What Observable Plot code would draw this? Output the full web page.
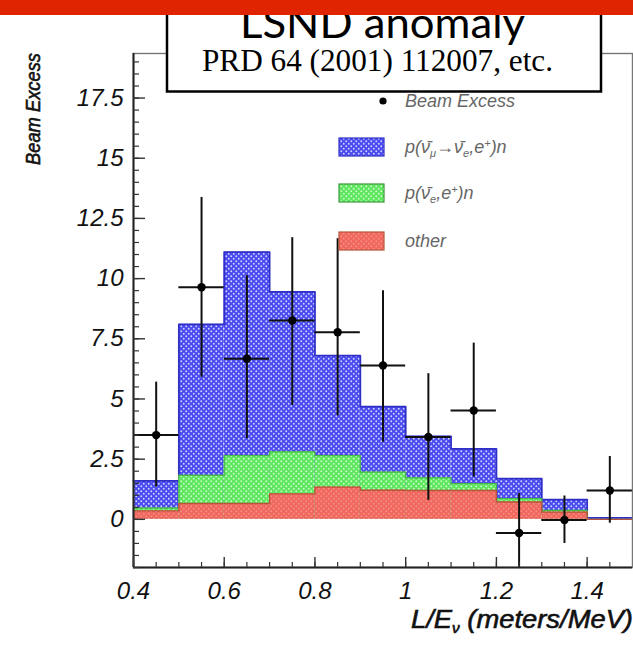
<!DOCTYPE html>
<html>
<head>
<meta charset="utf-8">
<script src="https://cdn.jsdelivr.net/npm/d3@7"></script>
<script src="https://cdn.jsdelivr.net/npm/@observablehq/plot@0.6"></script>
<style>
  body { margin: 0; background: #fff; }
  #wrap { position: relative; width: 633px; height: 646px; overflow: hidden; background: #fff; }
  #wrap > svg.plotsvg { position: absolute; left: 0; top: 0; }
  #header { position: absolute; left: 0; top: 0; }
</style>
</head>
<body>
<div id="wrap"></div>
<script>
// ---------- data ----------
const binStart = [0.4, 0.5, 0.6, 0.7, 0.8, 0.9, 1.0, 1.1, 1.2, 1.3, 1.4];
const binWidth = 0.1;
// stacked tops of the three contributions
const oscTop   = [1.6, 8.1, 11.1, 9.45, 6.8, 4.68, 3.45, 2.93, 1.69, 0.82, 0.06]; // p(nubar_mu -> nubar_e, e+)n  (total)
const nueTop   = [0.47, 1.83, 2.65, 2.8, 2.65, 1.96, 1.72, 1.48, 0.86, 0.37, 0.0]; // p(nubar_e, e+)n
const otherTop = [0.35, 0.66, 0.66, 1.06, 1.34, 1.21, 1.2, 1.2, 0.72, 0.3, 0.0];   // other
// beam excess data points
const ptX   = [0.45, 0.55, 0.65, 0.75, 0.85, 0.95, 1.05, 1.15, 1.25, 1.35, 1.45];
const ptY   = [3.5, 9.64, 6.67, 8.26, 7.77, 6.39, 3.42, 4.52, -0.57, -0.03, 1.2];
const ptHi  = [5.7, 13.37, 10.12, 11.7, 11.66, 9.5, 6.05, 7.32, 1.07, 0.97, 2.61];
const ptLo  = [1.34, 5.9, 3.35, 4.73, 4.3, 3.2, 0.79, 1.76, -2.0, -1.0, -0.16];
// axes
const xTicks = [0.4, 0.6, 0.8, 1, 1.2, 1.4];
const yTicks = [0, 2.5, 5, 7.5, 10, 12.5, 15, 17.5];
const xMinor = d3.range(0.4, 1.5, 0.05).map(v => +v.toFixed(2));
const yMinor = d3.range(-2, 19.3, 0.5).map(v => +v.toFixed(2));
const xDomain = [0.4, 1.5];
const yDomain = [-2, 19.35];
const legendLabels = ["Beam Excess", "osc", "nue", "other"];

// ---------- layout ----------
const W = 633, H = 646;
const mL = 133, mR = 1, mT = 53, mB = 79;
const frameW = W - mL - mR, frameH = H - mT - mB;

const bins = binStart.map((x0, i) => ({
  x1: x0, x2: +(x0 + binWidth).toFixed(2),
  osc: oscTop[i], nue: nueTop[i], other: otherTop[i]
}));
function steps(key) {
  const pts = bins.map(b => ({x: b.x1, y: b[key]}));
  const last = bins[bins.length - 1];
  pts.push({x: last.x2, y: last[key]});
  return pts;
}
const points = ptX.map((x, i) => ({x, y: ptY[i], hi: ptHi[i], lo: ptLo[i], xl: +(x - binWidth / 2).toFixed(2), xr: +(x + binWidth / 2).toFixed(2)}));

const AX = "'Liberation Sans', Arial, Helvetica, sans-serif";

function defsMark() {
  const g = d3.create("svg:defs");
  function pat(id, bg, dot) {
    const p = g.append("pattern").attr("id", id).attr("patternUnits", "userSpaceOnUse")
      .attr("width", 5).attr("height", 5);
    p.append("rect").attr("width", 5).attr("height", 5).attr("fill", bg);
    p.append("circle").attr("cx", 1.25).attr("cy", 1.25).attr("r", 0.95).attr("fill", dot);
    p.append("circle").attr("cx", 3.75).attr("cy", 3.75).attr("r", 0.95).attr("fill", dot);
  }
  pat("pBlue", "#4a4aef", "#cdd4ff");
  pat("pGreen", "#5de65d", "#c6ffc6");
  pat("pRed", "#f1675e", "#f58e86");
  return g.node();
}

function textMark() {
  const g = d3.create("svg:g").attr("text-anchor", "start");
  // y axis title
  g.append("text")
    .attr("transform", `translate(40,${mT}) rotate(-90)`)
    .attr("text-anchor", "end")
    .attr("font-family", AX).attr("font-style", "italic").attr("font-size", 21)
    .attr("fill", "#111").attr("stroke", "#111").attr("stroke-width", 0.6)
    .attr("textLength", 112).attr("lengthAdjust", "spacingAndGlyphs")
    .text("Beam Excess");
  // x axis title
  const xt = g.append("text")
    .attr("x", 633).attr("y", 628)
    .attr("text-anchor", "end")
    .attr("font-family", AX).attr("font-style", "italic").attr("font-size", 25)
    .attr("fill", "#111").attr("stroke", "#111").attr("stroke-width", 0.6)
    .attr("textLength", 222).attr("lengthAdjust", "spacingAndGlyphs");
  xt.append("tspan").text("L/E");
  xt.append("tspan").attr("font-size", 14).attr("dy", 5).text("\u03BD");
  xt.append("tspan").attr("dy", -5).text(" (meters/MeV)");

  // legend
  const lx = 339, lw = 45, tx = 405;
  const rows = [101, 147, 193, 241];
  const lg = g.append("g").attr("text-anchor", "start").attr("font-family", AX).attr("font-style", "italic").attr("font-size", 18).attr("fill", "#666");
  lg.append("circle").attr("cx", 383).attr("cy", rows[0]).attr("r", 3.6).attr("fill", "#000");
  lg.append("text").attr("x", tx).attr("y", rows[0] + 6).text(legendLabels[0]);
  const sw = [["pBlue", "#2f2fc8"], ["pGreen", "#3a9a3a"], ["pRed", "#b8553a"]];
  sw.forEach(([p, s], i) => {
    lg.append("rect").attr("x", lx).attr("y", rows[i + 1] - 9).attr("width", lw).attr("height", 18)
      .attr("fill", `url(#${p})`).attr("stroke", s).attr("stroke-width", 1.2);
  });
  // p(nubar_mu -> nubar_e, e+)n
  const t1 = lg.append("text").attr("x", tx).attr("y", rows[1] + 6);
  t1.append("tspan").text("p(\u03BD\u0304");
  t1.append("tspan").attr("font-size", 11).attr("dy", 4).text("\u03BC");
  t1.append("tspan").attr("dy", -4).text("\u2192\u03BD\u0304");
  t1.append("tspan").attr("font-size", 11).attr("dy", 4).text("e");
  t1.append("tspan").attr("dy", -4).text(",e");
  t1.append("tspan").attr("font-size", 11).attr("dy", -6).text("+");
  t1.append("tspan").attr("dy", 6).text(")n");
  // p(nubar_e, e+)n
  const t2 = lg.append("text").attr("x", tx).attr("y", rows[2] + 6);
  t2.append("tspan").text("p(\u03BD\u0304");
  t2.append("tspan").attr("font-size", 11).attr("dy", 4).text("e");
  t2.append("tspan").attr("dy", -4).text(",e");
  t2.append("tspan").attr("font-size", 11).attr("dy", -6).text("+");
  t2.append("tspan").attr("dy", 6).text(")n");
  lg.append("text").attr("x", tx).attr("y", rows[3] + 6).text(legendLabels[3]);
  return g.node();
}

const fmt = d => String(d);

const chart = Plot.plot({
  width: W, height: H,
  marginLeft: mL, marginRight: mR, marginTop: mT, marginBottom: mB,
  x: {domain: xDomain},
  y: {domain: yDomain},
  style: {background: "transparent", overflow: "visible"},
  marks: [
    defsMark,
    // stacked histograms (back to front)
    Plot.rectY(bins, {x1: "x1", x2: "x2", y1: 0, y2: "osc", fill: "url(#pBlue)"}),
    Plot.line(steps("osc"), {x: "x", y: "y", curve: "step-after", stroke: "#2f2fc8", strokeWidth: 1.8}),
    Plot.rectY(bins, {x1: "x1", x2: "x2", y1: 0, y2: "nue", fill: "url(#pGreen)"}),
    Plot.line(steps("nue"), {x: "x", y: "y", curve: "step-after", stroke: "#46b846", strokeWidth: 1.2}),
    Plot.rectY(bins, {x1: "x1", x2: "x2", y1: 0, y2: "other", fill: "url(#pRed)"}),
    Plot.line(steps("other"), {x: "x", y: "y", curve: "step-after", stroke: "#b8553a", strokeWidth: 1.4}),
    // data points with error bars
    Plot.ruleX(points, {x: "x", y1: "lo", y2: "hi", stroke: "#111", strokeWidth: 2}),
    Plot.ruleY(points, {y: "y", x1: "xl", x2: "xr", stroke: "#111", strokeWidth: 2}),
    Plot.dot(points, {x: "x", y: "y", r: 4.2, fill: "#000", stroke: "none"}),
    // frame and axes
    Plot.frame({stroke: "#777", strokeWidth: 1.4}),
    Plot.ruleX([xDomain[0]], {stroke: "#222", strokeWidth: 2}),
    Plot.ruleY([yDomain[0]], {stroke: "#222", strokeWidth: 2}),
    // inward ticks
    Plot.tickY(yMinor, {y: d => d, stroke: "#333", strokeWidth: 1.2, insetRight: frameW - 6}),
    Plot.tickY(yTicks, {y: d => d, stroke: "#333", strokeWidth: 1.4, insetRight: frameW - 12}),
    Plot.tickX(xMinor, {x: d => d, stroke: "#333", strokeWidth: 1.2, insetTop: frameH - 5}),
    Plot.tickX(xTicks, {x: d => d, stroke: "#333", strokeWidth: 1.4, insetTop: frameH - 10}),
    // tick labels
    Plot.axisY(yTicks, {tickSize: 0, tickPadding: 10, tickFormat: fmt, label: null, fontSize: 24, fontStyle: "italic", fontFamily: AX, fill: "#111", stroke: "#111", strokeWidth: 0.6}),
    Plot.axisX(xTicks, {tickSize: 0, tickPadding: 14, tickFormat: fmt, label: null, fontSize: 24, fontStyle: "italic", fontFamily: AX, fill: "#111", stroke: "#111", strokeWidth: 0.6}),
    textMark
  ]
});
chart.classList.add("plotsvg");
const wrap = document.getElementById("wrap");
wrap.appendChild(chart);

// header: banner + title box
const hdr = d3.select(wrap).append("svg").attr("id", "header").attr("width", W).attr("height", 100);
hdr.append("rect").attr("x", 167).attr("y", -10).attr("width", 434).attr("height", 101.5)
  .attr("fill", "#fff").attr("stroke", "#000").attr("stroke-width", 2.5);
hdr.append("text").attr("x", 240).attr("y", 38)
  .attr("font-family", "Lato, 'Open Sans', sans-serif").attr("font-size", 42).attr("fill", "#000")
  .attr("textLength", 285).attr("lengthAdjust", "spacingAndGlyphs")
  .text("LSND anomaly");
hdr.append("text").attr("x", 202).attr("y", 71)
  .attr("font-family", "'Liberation Serif', 'Times New Roman', serif").attr("font-size", 31).attr("fill", "#000")
  .attr("textLength", 351).attr("lengthAdjust", "spacingAndGlyphs")
  .text("PRD 64 (2001) 112007, etc.");
hdr.append("rect").attr("x", 0).attr("y", 0).attr("width", W).attr("height", 15).attr("fill", "#e02400");
</script>
</body>
</html>
